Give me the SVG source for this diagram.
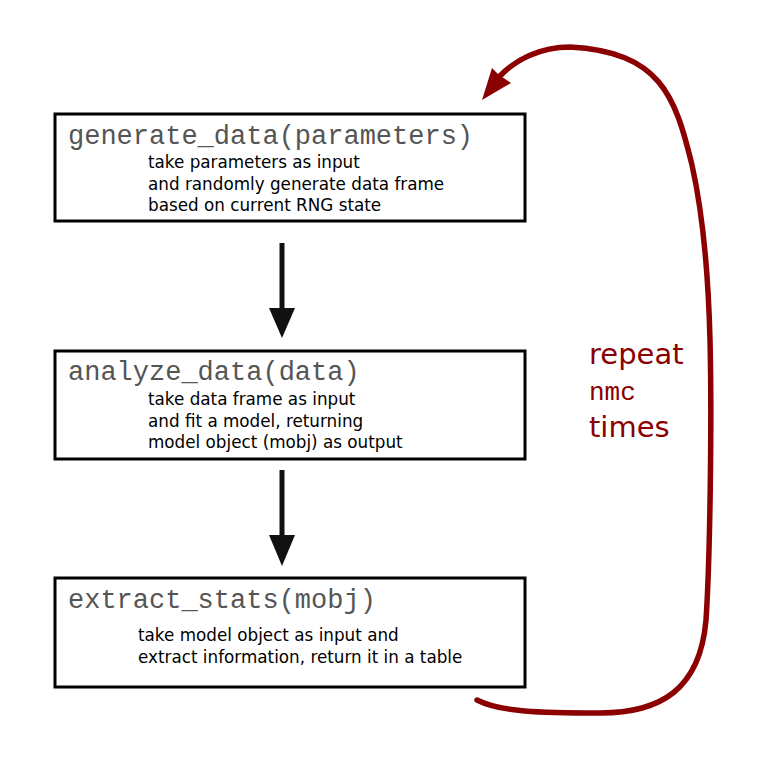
<svg xmlns="http://www.w3.org/2000/svg" width="772" height="759" viewBox="0 0 772 759">
<style>
.box{fill:#fff;stroke:#000;stroke-width:3}
.title{font-family:"Liberation Mono","Courier New",monospace;font-size:27px;fill:#555}
.body{font-family:"DejaVu Sans",Verdana,sans-serif;font-size:16.8px;fill:#000}
.red{font-family:"DejaVu Sans",Verdana,sans-serif;font-size:29px;fill:#8b0000}
.redmono{font-family:"Liberation Mono","Courier New",monospace;font-size:26px;fill:#8b0000}
.arr{stroke:#111;stroke-width:5;fill:none}
</style>
<rect width="772" height="759" fill="#fff"/>
<g id="generate">
<rect class="box" x="55" y="114" width="470" height="107"/>
<text class="title" x="68" y="144">generate_data(parameters)</text>
<text class="body" x="148" y="168">take parameters as input</text>
<text class="body" x="148" y="190">and randomly generate data frame</text>
<text class="body" x="148" y="211">based on current RNG state</text>
</g>
<g id="analyze">
<rect class="box" x="55" y="351" width="470" height="108"/>
<text class="title" x="68" y="380">analyze_data(data)</text>
<text class="body" x="148" y="405">take data frame as input</text>
<text class="body" x="148" y="427">and fit a model, returning</text>
<text class="body" x="148" y="448">model object (mobj) as output</text>
</g>
<g id="extract">
<rect class="box" x="55" y="578" width="470" height="109"/>
<text class="title" x="68" y="608">extract_stats(mobj)</text>
<text class="body" x="138" y="641">take model object as input and</text>
<text class="body" x="138" y="663">extract information, return it in a table</text>
</g>
<g id="repeat-label">
<text class="red" x="589" y="364">repeat</text>
<text class="redmono" x="589" y="400">nmc</text>
<text class="red" x="589" y="437">times</text>
</g>
<g id="connectors">
<line class="arr" x1="282" y1="243" x2="282" y2="312"/>
<polygon points="269,308 295,308 282,338" fill="#111"/>
<line class="arr" x1="282" y1="470" x2="282" y2="538"/>
<polygon points="269,535 295,535 282,566" fill="#111"/>
<path d="M 477 700 C 500 712, 540 713, 600 713 C 660 713, 700 690, 706 620 C 710 560, 712 420, 710 340 C 708 260, 702 210, 692 165 C 675 95, 660 52, 570 47 C 540 47, 515 60, 500 76" fill="none" stroke="#8b0000" stroke-width="5.5" stroke-linecap="round"/>
<polygon points="482,100 492,68 499,75 511,83" fill="#8b0000"/>
</g>
</svg>
